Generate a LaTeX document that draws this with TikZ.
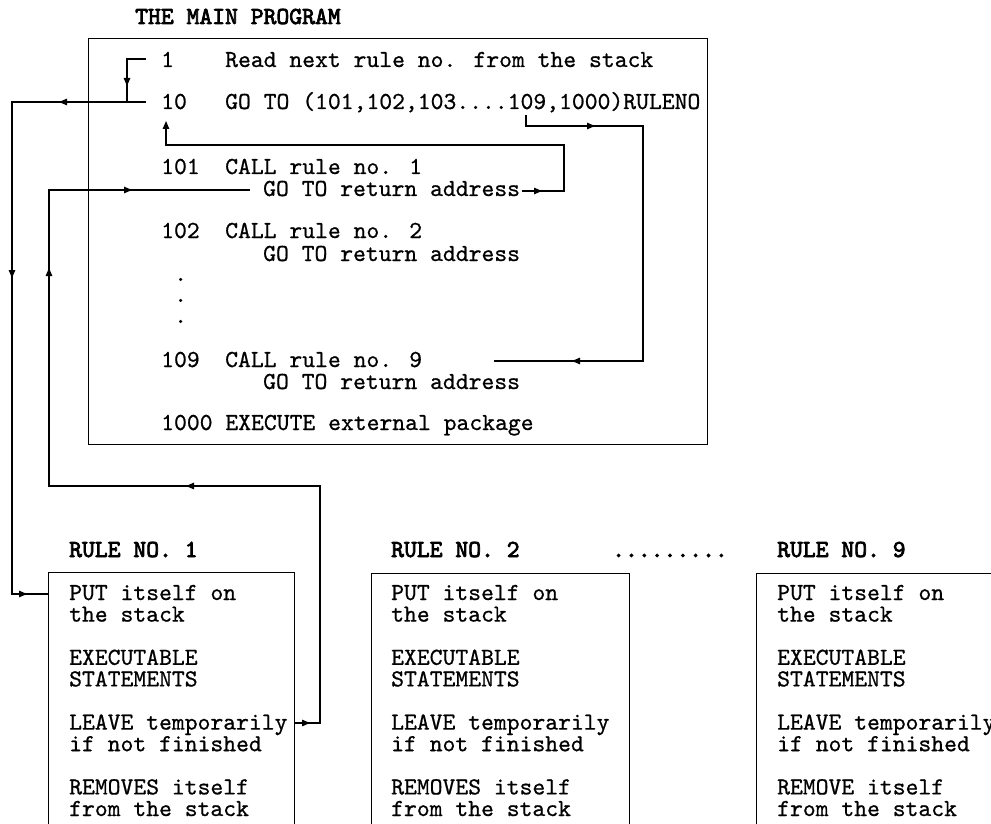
\documentclass[tikz,border=0pt]{standalone}
\usepackage{fontspec}
\usepackage{tikz}
\usetikzlibrary{arrows.meta}
\newfontfamily\codefont[FakeBold=0.7]{lmmono10-regular.otf}
\newfontfamily\headfont[FakeBold=3]{lmmono10-regular.otf}

\tikzset{
  code/.style={font=\codefont\fontsize{24.46}{21.6}\selectfont, inner sep=0pt, anchor=base west},
  head/.style={code, font=\headfont\fontsize{24.46}{21.6}\selectfont},
  lines/.style={code, align=left},
  frame/.style={draw, line width=1.3pt, anchor=north west, inner sep=0pt},
  wire/.style={line width=1.3pt},
  midtip/.style={line width=1.3pt, -{Triangle[length=8pt,width=6.5pt]}}
}

\begin{document}
\begin{tikzpicture}[x=1pt, y=-1pt]
\useasboundingbox (0,0) rectangle (991,824);
\clip (0,0) rectangle (991,824);

% the main program
\node[head] (title) at (135,24) {THE MAIN PROGRAM};
\node[frame, minimum width=619pt, minimum height=406pt] (mainbox) at (88,38) {};
\node[code] (n1) at (161,67) {1};
\node[code] (t1) at (225,67) {Read next rule no. from the stack};
\node[code] (n10) at (161,109) {10};
\node[code] (t10) at (225,109) {GO TO (101,102,103....109,1000)RULENO};
\node[code] (n101) at (161,174) {101};
\node[code] (t101) at (225,174) {CALL rule no. 1};
\node[code] (g101) at (263,196) {GO TO return address};
\node[code] (n102) at (161,238) {102};
\node[code] (t102) at (225,238) {CALL rule no. 2};
\node[code] (g102) at (263,261) {GO TO return address};
\node[code] (dota) at (174,281) {.};
\node[code] (dotb) at (174,302) {.};
\node[code] (dotc) at (174,323) {.};
\node[code] (n109) at (161,367) {109};
\node[code] (t109) at (225,367) {CALL rule no. 9};
\node[code] (g109) at (263,389) {GO TO return address};
\node[code] (n1000) at (161,430) {1000 EXECUTE external package};

% the rules
\node[head] (h1) at (69,557) {RULE NO. 1};
\node[head] (h2) at (391,557) {RULE NO. 2};
\node[head] (hdots) at (612,557) {.........};
\node[head] (h9) at (777,557) {RULE NO. 9};
\node[frame, minimum width=246pt, minimum height=300pt] (box1) at (48,572) {};
\node[frame, minimum width=258pt, minimum height=300pt] (box2) at (371,573) {};
\node[frame, minimum width=300pt, minimum height=300pt] (box9) at (756,573) {};
% (base of a text of several lines = base of its last line)
\node[lines] (b1) at (69,816) {PUT itself on\\the stack\\[21.6pt]EXECUTABLE\\STATEMENTS\\[21.6pt]LEAVE temporarily\\if not finished\\[21.6pt]REMOVES itself\\from the stack};
\node[lines] (b2) at (391,816) {PUT itself on\\the stack\\[21.6pt]EXECUTABLE\\STATEMENTS\\[21.6pt]LEAVE temporarily\\if not finished\\[21.6pt]REMOVES itself\\from the stack};
\node[lines] (b9) at (777,816) {PUT itself on\\the stack\\[21.6pt]EXECUTABLE\\STATEMENTS\\[21.6pt]LEAVE temporarily\\if not finished\\[21.6pt]REMOVE itself\\from the stack};

% ends of the connectors
\coordinate (from1) at (146,59);
\coordinate (from10) at (146,102);
\coordinate (join10) at (127,102);
\coordinate (into1) at (48,594);
\coordinate (leave1) at (294,723);
\coordinate (back101) at (250,190);
\coordinate (ret101) at (522,191);
\coordinate (to10) at (166,121);
\coordinate (at109) at (526,115);
\coordinate (call109) at (494,361);

% 1 -> 10
\draw[wire] (from1) -| (join10);
\draw[midtip] (127,74) -- (127,86);
% 10 -> rule no. 1
\draw[wire] (from10) -- (12,102) |- (into1);
\draw[midtip] (70,102) -- (59,102);
\draw[midtip] (12,266) -- (12,278);
\draw[midtip] (14,594) -- (27,594);
% rule no. 1 -> return address
\draw[wire] (leave1) -- (320,723) -- (320,486) -- (49,486) |- (back101);
\draw[midtip] (298,723) -- (310,723);
\draw[midtip] (198,486) -- (186,486);
\draw[midtip] (49,280) -- (49,268);
\draw[midtip] (120,190) -- (132,190);
% return address -> 10
\draw[wire] (ret101) -- (564,191) -- (564,145) -- (166,145) -- (166,130);
\draw[midtip] (530,191) -- (542,191);
\draw[midtip] (166,133) -- (to10);
% 109 -> CALL rule no. 9
\draw[wire] (at109) -- (526,126) -- (643,126) |- (call109);
\draw[midtip] (583,126) -- (595,126);
\draw[midtip] (584,361) -- (572,361);
\end{tikzpicture}
\end{document}
